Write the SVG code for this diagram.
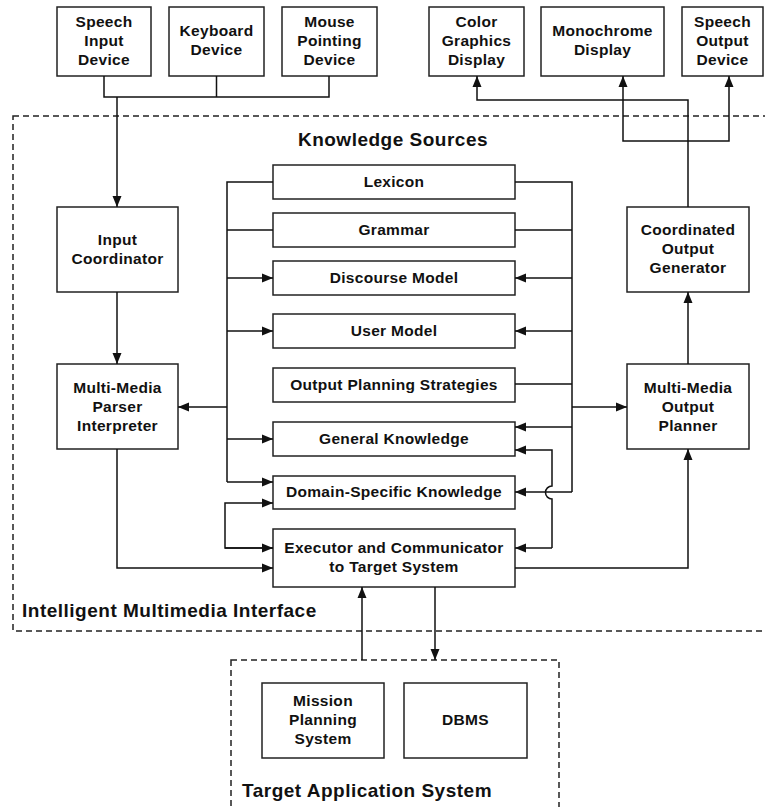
<svg xmlns="http://www.w3.org/2000/svg" width="765" height="807" viewBox="0 0 765 807">
  <style>
    .box { fill: #fff; stroke: #222; stroke-width: 1.5; }
    .frame { fill: none; stroke: #222; stroke-width: 1.5; stroke-dasharray: 6 4; }
    .wire { fill: none; stroke: #111; stroke-width: 1.5; }
    .lbl { font-family: "Liberation Sans", Arial, Helvetica, sans-serif; font-weight: bold; font-size: 15.5px; letter-spacing: 0.3px; fill: #111; text-anchor: middle; }
    .title { font-family: "Liberation Sans", Arial, Helvetica, sans-serif; font-weight: bold; font-size: 19px; letter-spacing: 0.5px; fill: #111; }
  </style>
  <defs>
    <marker id="arrow" markerUnits="userSpaceOnUse" markerWidth="12" markerHeight="10" refX="11" refY="5" orient="auto">
      <path d="M0,0.5 L11,5 L0,9.5 Z" fill="#111"/>
    </marker>
  </defs>

  <rect width="765" height="807" fill="#fff"/>

  <!-- system boundaries -->
  <g id="interface-frame">
    <rect class="frame" x="13" y="116" width="762" height="515"/>
    <text class="title" x="22" y="617">Intelligent Multimedia Interface</text>
    <text class="title" x="393" y="146" text-anchor="middle">Knowledge Sources</text>
  </g>
  <g id="target-frame">
    <rect class="frame" x="231" y="660" width="328" height="170"/>
    <text class="title" x="242" y="797">Target Application System</text>
  </g>

  <!-- input devices -->
  <g id="speech-input">
    <rect class="box" x="57" y="7" width="94" height="69"/>
    <text class="lbl" x="104" y="27">Speech</text>
    <text class="lbl" x="104" y="46">Input</text>
    <text class="lbl" x="104" y="65">Device</text>
  </g>
  <g id="keyboard">
    <rect class="box" x="169" y="7" width="95" height="69"/>
    <text class="lbl" x="216.5" y="36">Keyboard</text>
    <text class="lbl" x="216.5" y="55">Device</text>
  </g>
  <g id="mouse">
    <rect class="box" x="282" y="7" width="95" height="69"/>
    <text class="lbl" x="329.5" y="27">Mouse</text>
    <text class="lbl" x="329.5" y="46">Pointing</text>
    <text class="lbl" x="329.5" y="65">Device</text>
  </g>

  <!-- output devices -->
  <g id="color-display">
    <rect class="box" x="429" y="7" width="95" height="69"/>
    <text class="lbl" x="476.5" y="27">Color</text>
    <text class="lbl" x="476.5" y="46">Graphics</text>
    <text class="lbl" x="476.5" y="65">Display</text>
  </g>
  <g id="mono-display">
    <rect class="box" x="541" y="7" width="123" height="69"/>
    <text class="lbl" x="602.5" y="36">Monochrome</text>
    <text class="lbl" x="602.5" y="55">Display</text>
  </g>
  <g id="speech-output">
    <rect class="box" x="682" y="7" width="81" height="69"/>
    <text class="lbl" x="722.5" y="27">Speech</text>
    <text class="lbl" x="722.5" y="46">Output</text>
    <text class="lbl" x="722.5" y="65">Device</text>
  </g>

  <!-- left column -->
  <g id="input-coordinator">
    <rect class="box" x="57" y="207" width="121" height="85"/>
    <text class="lbl" x="117.5" y="245">Input</text>
    <text class="lbl" x="117.5" y="264">Coordinator</text>
  </g>
  <g id="parser">
    <rect class="box" x="57" y="364" width="121" height="85"/>
    <text class="lbl" x="117.5" y="393">Multi-Media</text>
    <text class="lbl" x="117.5" y="412">Parser</text>
    <text class="lbl" x="117.5" y="431">Interpreter</text>
  </g>

  <!-- right column -->
  <g id="output-generator">
    <rect class="box" x="627" y="207" width="122" height="85"/>
    <text class="lbl" x="688" y="235">Coordinated</text>
    <text class="lbl" x="688" y="254">Output</text>
    <text class="lbl" x="688" y="273">Generator</text>
  </g>
  <g id="output-planner">
    <rect class="box" x="627" y="364" width="122" height="85"/>
    <text class="lbl" x="688" y="393">Multi-Media</text>
    <text class="lbl" x="688" y="412">Output</text>
    <text class="lbl" x="688" y="431">Planner</text>
  </g>

  <!-- knowledge sources -->
  <g id="lexicon">
    <rect class="box" x="273" y="165" width="242" height="34"/>
    <text class="lbl" x="394" y="187">Lexicon</text>
  </g>
  <g id="grammar">
    <rect class="box" x="273" y="213" width="242" height="34"/>
    <text class="lbl" x="394" y="235">Grammar</text>
  </g>
  <g id="discourse-model">
    <rect class="box" x="273" y="261" width="242" height="34"/>
    <text class="lbl" x="394" y="283">Discourse Model</text>
  </g>
  <g id="user-model">
    <rect class="box" x="273" y="314" width="242" height="34"/>
    <text class="lbl" x="394" y="336">User Model</text>
  </g>
  <g id="output-strategies">
    <rect class="box" x="273" y="368" width="242" height="34"/>
    <text class="lbl" x="394" y="390">Output Planning Strategies</text>
  </g>
  <g id="general-knowledge">
    <rect class="box" x="273" y="422" width="242" height="34"/>
    <text class="lbl" x="394" y="444">General Knowledge</text>
  </g>
  <g id="domain-knowledge">
    <rect class="box" x="273" y="476" width="242" height="33"/>
    <text class="lbl" x="394" y="497">Domain-Specific Knowledge</text>
  </g>
  <g id="executor">
    <rect class="box" x="273" y="529" width="242" height="58"/>
    <text class="lbl" x="394" y="553">Executor and Communicator</text>
    <text class="lbl" x="394" y="572">to Target System</text>
  </g>

  <!-- target application -->
  <g id="mission-planning">
    <rect class="box" x="262" y="683" width="122" height="75"/>
    <text class="lbl" x="323" y="706">Mission</text>
    <text class="lbl" x="323" y="725">Planning</text>
    <text class="lbl" x="323" y="744">System</text>
  </g>
  <g id="dbms">
    <rect class="box" x="404" y="683" width="123" height="75"/>
    <text class="lbl" x="465.5" y="725">DBMS</text>
  </g>

  <g id="connectors">
    <!-- input devices bus -->
    <path class="wire" d="M104,76 V97 H329 V76 M216.5,76 V97"/>
    <path class="wire" d="M117,97 V207" marker-end="url(#arrow)"/>
    <path class="wire" d="M117,292 V364" marker-end="url(#arrow)"/>

    <!-- left knowledge bus -->
    <path class="wire" d="M273,182 H227 V482 M273,230 H227"/>
    <path class="wire" d="M227,278 H273" marker-end="url(#arrow)"/>
    <path class="wire" d="M227,331 H273" marker-end="url(#arrow)"/>
    <path class="wire" d="M227,439 H273" marker-end="url(#arrow)"/>
    <path class="wire" d="M227,482 H273" marker-end="url(#arrow)"/>
    <path class="wire" d="M227,407 H178" marker-end="url(#arrow)"/>

    <!-- domain / executor loop -->
    <path class="wire" d="M273,548 H225 V503 H273" marker-end="url(#arrow)"/>
    <path class="wire" d="M225,548 H273" marker-end="url(#arrow)"/>

    <!-- parser to executor -->
    <path class="wire" d="M117,449 V568 H273" marker-end="url(#arrow)"/>

    <!-- right knowledge bus -->
    <path class="wire" d="M515,182 H572 V492 M515,230 H572 M515,384 H572"/>
    <path class="wire" d="M572,278 H515" marker-end="url(#arrow)"/>
    <path class="wire" d="M572,331 H515" marker-end="url(#arrow)"/>
    <path class="wire" d="M572,427 H515" marker-end="url(#arrow)"/>
    <path class="wire" d="M572,492 H515" marker-end="url(#arrow)"/>
    <path class="wire" d="M572,407 H627" marker-end="url(#arrow)"/>

    <!-- general knowledge / executor loop with jump -->
    <path class="wire" d="M552,548 V499 A6.5,6.5 0 0 1 552,486 V450 H515" marker-end="url(#arrow)"/>
    <path class="wire" d="M552,548 H515" marker-end="url(#arrow)"/>

    <!-- executor to output planner -->
    <path class="wire" d="M515,568 H688 V449" marker-end="url(#arrow)"/>
    <path class="wire" d="M688,364 V292" marker-end="url(#arrow)"/>

    <!-- output generator to displays -->
    <path class="wire" d="M688,207 V100 H477 V76" marker-end="url(#arrow)"/>
    <path class="wire" d="M676,141 H623 V76" marker-end="url(#arrow)"/>
    <path class="wire" d="M676,141 H729 V76" marker-end="url(#arrow)"/>

    <!-- executor and target application -->
    <path class="wire" d="M362,660 V587" marker-end="url(#arrow)"/>
    <path class="wire" d="M435,587 V660" marker-end="url(#arrow)"/>
  </g>
</svg>
